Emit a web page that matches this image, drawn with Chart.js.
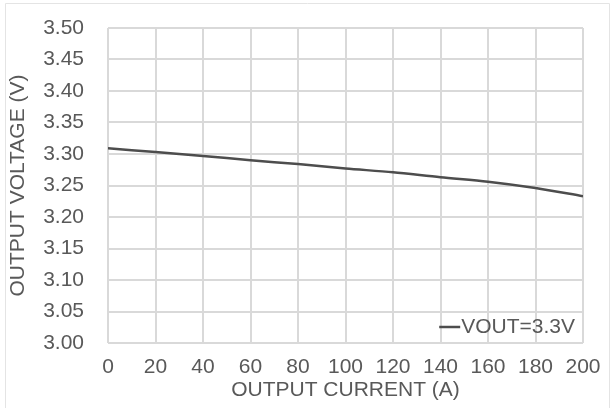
<!DOCTYPE html>
<html><head><meta charset="utf-8">
<script src="https://cdn.jsdelivr.net/npm/chart.js@4/dist/chart.umd.min.js"></script>
<style>html,body{margin:0;padding:0;background:#fff;}#wrap{width:611px;height:408px;position:relative;}</style>
</head><body><div id="wrap"><canvas id="c" width="611" height="408"></canvas></div>
<script>
const currents = [0, 20, 40, 60, 80, 100, 120, 140, 160, 180, 200];
const voltages = [3.309, 3.303, 3.297, 3.290, 3.284, 3.277, 3.271, 3.263, 3.256, 3.246, 3.233];
const seriesLabel = 'VOUT=3.3V';
const xTitle = 'OUTPUT CURRENT (A)';
const yTitle = 'OUTPUT VOLTAGE (V)';
const yMin = 3.0, yMax = 3.5, yStep = 0.05;
const xMin = 0, xMax = 200, xStep = 20;

const textColor = '#595959';
const gridColor = '#d9d9d9';
const font = {family: '"Liberation Sans", Arial, sans-serif', size: 21};

const frame = {
  id: 'frame',
  beforeDraw(chart) {
    const ctx = chart.ctx;
    ctx.save();
    ctx.fillStyle = '#fff';
    ctx.fillRect(0, 0, chart.width, chart.height);
    ctx.strokeStyle = '#e4e4e4';
    ctx.lineWidth = 1;
    ctx.beginPath();
    ctx.moveTo(5.5, 408); ctx.lineTo(5.5, 3.5); ctx.lineTo(609.5, 3.5); ctx.lineTo(609.5, 408);
    ctx.stroke();
    ctx.restore();
  }
};

const legendInside = {
  id: 'legendInside',
  afterDatasetsDraw(chart) {
    const ctx = chart.ctx;
    const ds = chart.data.datasets[0];
    const area = chart.chartArea;
    ctx.save();
    ctx.font = '21px "Liberation Sans", Arial, sans-serif';
    ctx.fillStyle = textColor;
    ctx.textBaseline = 'middle';
    ctx.textAlign = 'right';
    const y = area.bottom - 16;
    const xr = area.right - 8;
    ctx.fillText(ds.label, xr, y);
    const w = ctx.measureText(ds.label).width;
    ctx.strokeStyle = ds.borderColor;
    ctx.lineWidth = 2.5;
    ctx.beginPath();
    ctx.moveTo(xr - w - 22, y);
    ctx.lineTo(xr - w - 1, y);
    ctx.stroke();
    ctx.restore();
  }
};

new Chart(document.getElementById('c'), {
  type: 'line',
  data: {
    datasets: [{
      label: seriesLabel,
      data: currents.map((x, i) => ({x: x, y: voltages[i]})),
      borderColor: '#4d4d4d',
      borderWidth: 2.5,
      pointRadius: 0,
      tension: 0.3,
      fill: false
    }]
  },
  options: {
    responsive: false,
    animation: false,
    layout: {padding: {left: 6, right: 28, top: 28, bottom: 5}},
    plugins: {legend: {display: false}, tooltip: {enabled: false}},
    scales: {
      x: {
        type: 'linear', min: xMin, max: xMax,
        ticks: {stepSize: xStep, color: textColor, font: font, padding: 2, maxRotation: 0},
        grid: {color: gridColor, lineWidth: 2, drawTicks: true, tickLength: 10, tickColor: 'rgba(0,0,0,0)'},
        border: {display: false},
        title: {display: true, text: xTitle, color: textColor, font: font, padding: {top: 0, bottom: 0}},
        afterFit(s) { s.height = 408 - 343 - 5; }
      },
      y: {
        min: yMin, max: yMax,
        ticks: {stepSize: yStep, color: textColor, font: font, padding: 2, callback: v => v.toFixed(2)},
        grid: {color: gridColor, lineWidth: 2, drawTicks: true, tickLength: 22, tickColor: 'rgba(0,0,0,0)'},
        border: {display: false},
        title: {display: true, text: yTitle, color: textColor, font: font, padding: {top: 0, bottom: 0}},
        afterFit(s) { s.width = 108 - 6; }
      }
    }
  },
  plugins: [frame, legendInside]
});
</script></body></html>
